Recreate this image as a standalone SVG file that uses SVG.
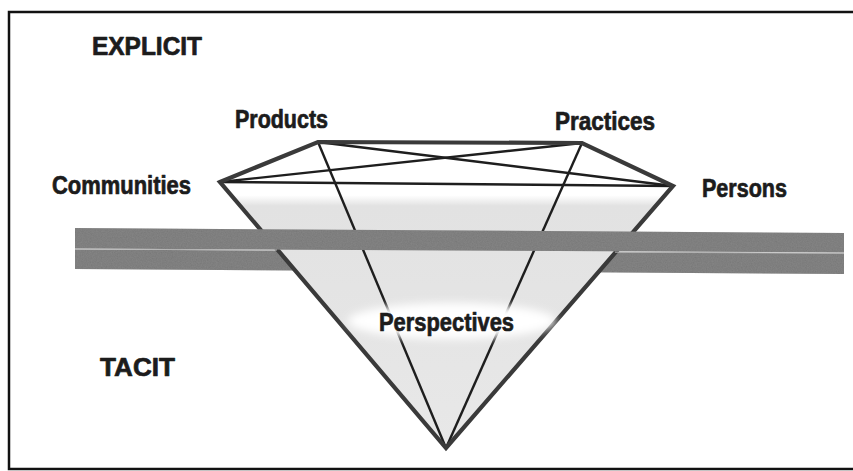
<svg xmlns="http://www.w3.org/2000/svg" width="853" height="471" viewBox="0 0 853 471">
<style>
.lbl{font-family:"Liberation Sans",Arial,sans-serif;font-weight:bold;font-size:25px;fill:#1c1c1c;stroke:#1c1c1c;stroke-width:0.7;stroke-linejoin:round}
.outer{fill:none;stroke:#3a3a3a;stroke-width:4.2;stroke-linejoin:miter}
.inner{stroke:#1e1e1e;stroke-width:2.4;fill:none}
.band{fill:#777777}
</style>
<defs>
<linearGradient id="dfill" gradientUnits="userSpaceOnUse" x1="0" y1="182" x2="0" y2="448">
<stop offset="0" stop-color="#ffffff"/>
<stop offset="0.05" stop-color="#ffffff"/>
<stop offset="0.09" stop-color="#e2e2e2"/>
<stop offset="1" stop-color="#e8e8e8"/>
</linearGradient>
<filter id="grain" x="0" y="0" width="100%" height="100%">
<feTurbulence type="fractalNoise" baseFrequency="0.8" numOctaves="2" seed="3" result="n"/>
<feColorMatrix in="n" type="matrix" values="0 0 0 0 0.3  0 0 0 0 0.3  0 0 0 0 0.3  0 0 0 0.5 0" result="g"/>
<feComposite in="g" in2="SourceGraphic" operator="in" result="gi"/>
<feMerge><feMergeNode in="SourceGraphic"/><feMergeNode in="gi"/></feMerge>
</filter>
<filter id="soft" x="-20%" y="-50%" width="140%" height="200%">
<feGaussianBlur stdDeviation="4"/>
</filter>
</defs>
<rect width="853" height="471" fill="#ffffff"/>
<path d="M853,12 H9 V469 H853" fill="none" stroke="#111" stroke-width="2.5"/>

<g id="band-lower">
<polygon class="band" points="75,249.5 844,253.5 844,274 75,269" filter="url(#grain)"/>
</g>

<g id="diamond">
<polygon points="220,182 318,142 582,143 673,186 446,448" fill="url(#dfill)"/>
</g>

<g id="connectors">
<line class="inner" x1="318" y1="142" x2="446" y2="448"/>
<line class="inner" x1="582" y1="143" x2="446" y2="448"/>
<line class="inner" x1="220" y1="182" x2="673" y2="186"/>
<line class="inner" x1="220" y1="182" x2="582" y2="143"/>
<line class="inner" x1="318" y1="142" x2="673" y2="186"/>
<polygon class="outer" points="220,182 318,142 582,143 673,186 446,448"/>
</g>

<g id="band-upper">
<polygon class="band" points="75,228 844,233 844,252.5 75,248.5" filter="url(#grain)"/>
<line x1="75" y1="249" x2="277" y2="250" stroke="#b0b0b0" stroke-width="1"/>
<line x1="615" y1="252.2" x2="844" y2="253.2" stroke="#b0b0b0" stroke-width="1"/>
</g>

<g id="node-perspectives">
<ellipse cx="452" cy="321" rx="104" ry="18" fill="#ffffff" filter="url(#soft)"/>
<text class="lbl" x="379" y="331" textLength="135" lengthAdjust="spacingAndGlyphs">Perspectives</text>
</g>

<g id="label-explicit"><text class="lbl" x="92" y="55" textLength="110" lengthAdjust="spacingAndGlyphs">EXPLICIT</text></g>
<g id="label-tacit"><text class="lbl" x="100" y="376" textLength="75" lengthAdjust="spacingAndGlyphs">TACIT</text></g>
<g id="node-products"><text class="lbl" x="235" y="128" textLength="93" lengthAdjust="spacingAndGlyphs">Products</text></g>
<g id="node-practices"><text class="lbl" x="555" y="130" textLength="100" lengthAdjust="spacingAndGlyphs">Practices</text></g>
<g id="node-communities"><text class="lbl" x="52" y="194" textLength="139" lengthAdjust="spacingAndGlyphs">Communities</text></g>
<g id="node-persons"><text class="lbl" x="702" y="197" textLength="85" lengthAdjust="spacingAndGlyphs">Persons</text></g>
</svg>
